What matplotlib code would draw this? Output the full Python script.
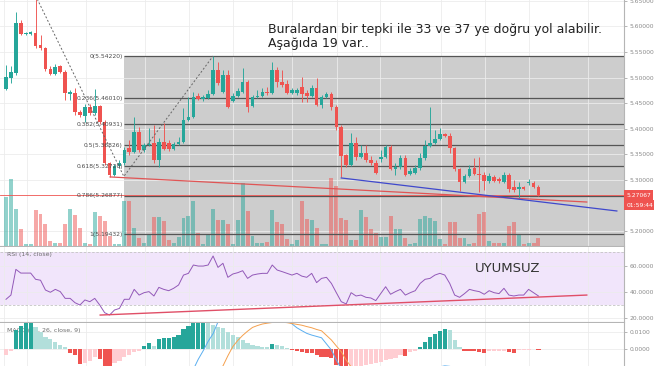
import numpy as np
import matplotlib
matplotlib.use('Agg')
import matplotlib.pyplot as plt
from matplotlib.transforms import blended_transform_factory

# 2h candles
opens = [5.478, 5.499, 5.509, 5.607, 5.585, 5.586, 5.587, 5.564, 5.558, 5.517,
         5.507, 5.523, 5.511, 5.468, 5.470, 5.433, 5.425, 5.443, 5.431, 5.445,
         5.413, 5.333, 5.310, 5.327, 5.333, 5.362, 5.355, 5.394, 5.359, 5.368,
         5.372, 5.339, 5.374, 5.372, 5.361, 5.370, 5.374, 5.417, 5.423, 5.464,
         5.458, 5.460, 5.468, 5.515, 5.472, 5.505, 5.454, 5.464, 5.472, 5.491,
         5.445, 5.462, 5.464, 5.472, 5.470, 5.515, 5.491, 5.487, 5.470, 5.470,
         5.482, 5.470, 5.464, 5.480, 5.446, 5.462, 5.468, 5.443, 5.404, 5.349,
         5.329, 5.372, 5.345, 5.353, 5.339, 5.333, 5.341, 5.345, 5.364, 5.321,
         5.325, 5.343, 5.312, 5.314, 5.323, 5.343, 5.366, 5.372, 5.380, 5.390,
         5.386, 5.362, 5.321, 5.296, 5.308, 5.323, 5.312, 5.310, 5.298, 5.306,
         5.302, 5.296, 5.310, 5.286, 5.282, 5.286, 5.294, 5.294, 5.286]
highs = [5.525, 5.523, 5.628, 5.613, 5.590, 5.592, 5.660, 5.583, 5.560, 5.523,
         5.527, 5.525, 5.515, 5.476, 5.480, 5.437, 5.448, 5.448, 5.478, 5.447,
         5.417, 5.335, 5.331, 5.339, 5.364, 5.378, 5.423, 5.404, 5.372, 5.402,
         5.407, 5.382, 5.411, 5.378, 5.374, 5.384, 5.441, 5.462, 5.472, 5.470,
         5.466, 5.476, 5.5422, 5.530, 5.515, 5.515, 5.470, 5.480, 5.519, 5.495,
         5.466, 5.476, 5.480, 5.482, 5.530, 5.521, 5.515, 5.495, 5.480, 5.480,
         5.501, 5.476, 5.486, 5.499, 5.466, 5.472, 5.472, 5.447, 5.407, 5.351,
         5.392, 5.384, 5.368, 5.368, 5.347, 5.339, 5.359, 5.368, 5.368, 5.333,
         5.349, 5.349, 5.323, 5.329, 5.353, 5.378, 5.443, 5.398, 5.402, 5.392,
         5.392, 5.364, 5.323, 5.312, 5.329, 5.343, 5.345, 5.316, 5.314, 5.310,
         5.306, 5.316, 5.314, 5.300, 5.296, 5.288, 5.302, 5.298, 5.290]
lows = [5.476, 5.490, 5.505, 5.583, 5.583, 5.584, 5.558, 5.554, 5.513, 5.505,
        5.505, 5.509, 5.456, 5.456, 5.427, 5.423, 5.413, 5.427, 5.427, 5.409,
        5.329, 5.306, 5.308, 5.323, 5.329, 5.349, 5.353, 5.355, 5.355, 5.366,
        5.333, 5.325, 5.359, 5.357, 5.359, 5.368, 5.372, 5.415, 5.421, 5.456,
        5.454, 5.458, 5.466, 5.486, 5.470, 5.441, 5.452, 5.462, 5.470, 5.433,
        5.443, 5.460, 5.462, 5.466, 5.468, 5.482, 5.482, 5.468, 5.468, 5.466,
        5.452, 5.452, 5.462, 5.444, 5.441, 5.460, 5.437, 5.398, 5.306, 5.325,
        5.327, 5.339, 5.343, 5.335, 5.329, 5.312, 5.335, 5.343, 5.320, 5.310,
        5.321, 5.308, 5.310, 5.312, 5.320, 5.339, 5.364, 5.370, 5.378, 5.384,
        5.353, 5.318, 5.279, 5.294, 5.306, 5.310, 5.277, 5.280, 5.294, 5.296,
        5.294, 5.294, 5.277, 5.277, 5.265, 5.281, 5.290, 5.284, 5.269]
closes = [5.501, 5.511, 5.607, 5.585, 5.588, 5.589, 5.562, 5.558, 5.517, 5.507,
          5.521, 5.511, 5.470, 5.471, 5.433, 5.427, 5.443, 5.431, 5.445, 5.413,
          5.333, 5.310, 5.327, 5.333, 5.359, 5.355, 5.394, 5.359, 5.368, 5.371,
          5.339, 5.374, 5.361, 5.361, 5.370, 5.374, 5.417, 5.423, 5.462, 5.458,
          5.462, 5.468, 5.515, 5.489, 5.505, 5.443, 5.464, 5.474, 5.491, 5.443,
          5.462, 5.464, 5.472, 5.470, 5.515, 5.491, 5.485, 5.470, 5.476, 5.476,
          5.468, 5.464, 5.480, 5.446, 5.462, 5.468, 5.443, 5.404, 5.347, 5.329,
          5.372, 5.345, 5.353, 5.339, 5.333, 5.314, 5.345, 5.364, 5.321, 5.325,
          5.343, 5.310, 5.318, 5.323, 5.343, 5.366, 5.372, 5.380, 5.390, 5.386,
          5.362, 5.321, 5.296, 5.308, 5.321, 5.312, 5.310, 5.298, 5.308, 5.298,
          5.298, 5.310, 5.283, 5.280, 5.286, 5.283, 5.296, 5.286, 5.27067]
volumes = [49, 67, 37, 17, 2, 2, 36, 32, 22, 5,
           3, 3, 22, 37, 31, 18, 3, 2, 34, 30,
           25, 10, 2, 2, 45, 45, 18, 8, 3, 12,
           29, 29, 25, 6, 3, 9, 28, 30, 45, 13,
           2, 12, 37, 26, 26, 22, 2, 26, 63, 35,
           10, 3, 3, 4, 36, 24, 22, 7, 2, 6,
           45, 27, 26, 18, 2, 2, 68, 60, 28, 26,
           6, 6, 36, 29, 17, 13, 9, 9, 30, 17,
           17, 8, 2, 3, 27, 30, 28, 25, 7, 2,
           24, 24, 8, 8, 2, 3, 32, 34, 5, 3,
           3, 3, 20, 24, 12, 2, 3, 3, 8]
rsi = [34.5, 37.7, 57.1, 54.3, 54.3, 54.3, 49.6, 48.9, 41.5, 39.8,
       42.0, 40.3, 35.2, 35.2, 31.9, 30.2, 34.0, 32.7, 35.2, 30.2,
       24.4, 22.6, 26.4, 27.6, 34.5, 34.5, 42.0, 37.7, 39.5, 40.3,
       37.0, 43.5, 42.0, 41.0, 42.8, 45.3, 52.8, 54.1, 60.4, 59.6,
       59.6, 60.4, 67.2, 58.6, 61.7, 51.1, 53.6, 54.6, 56.1, 50.3,
       52.8, 53.6, 54.1, 54.1, 60.4, 56.6, 55.4, 54.1, 52.8, 54.1,
       52.0, 51.1, 54.1, 47.1, 50.3, 51.1, 46.5, 39.5, 32.7, 31.0,
       39.5, 37.0, 37.7, 36.0, 35.5, 33.5, 38.8, 44.0, 38.3, 40.3,
       42.0, 37.7, 39.5, 41.0, 46.5, 49.6, 50.3, 52.8, 54.1, 52.8,
       46.5, 37.7, 36.0, 38.8, 42.0, 41.0, 40.3, 38.3, 41.0, 39.5,
       38.8, 42.8, 37.7, 37.0, 37.7, 37.7, 42.0, 39.5, 37.0]
macd_hist = [-0.0035, -0.0010, 0.0112, 0.0135, 0.0155, 0.0157, 0.0131, 0.0102, 0.0073, 0.0057,
             0.0043, 0.0024, 0.0010, -0.0025, -0.0035, -0.0088, -0.0080, -0.0069, -0.0049, -0.0061,
             -0.0100, -0.0108, -0.0084, -0.0069, -0.0049, -0.0035, -0.0020, -0.0010, 0.0018, 0.0037,
             0.0018, 0.0057, 0.0063, 0.0065, 0.0069, 0.0082, 0.0116, 0.0135, 0.0155, 0.0156,
             0.0157, 0.0151, 0.0141, 0.0131, 0.0122, 0.0102, 0.0082, 0.0069, 0.0053, 0.0037,
             0.0024, 0.0018, 0.0014, 0.0010, 0.0029, 0.0024, 0.0018, 0.0004, -0.0005, -0.0010,
             -0.0016, -0.0022, -0.0025, -0.0035, -0.0045, -0.0049, -0.0055, -0.0094, -0.0104, -0.0110,
             -0.0104, -0.0104, -0.0100, -0.0094, -0.0088, -0.0084, -0.0075, -0.0065, -0.0061, -0.0055,
             -0.0035, -0.0040, -0.0016, -0.0010, 0.0010, 0.0043, 0.0073, 0.0088, 0.0108, 0.0116,
             0.0112, 0.0053, 0.0010, -0.0010, -0.0011, -0.0012, -0.0016, -0.0025, -0.0012, -0.0011,
             -0.0010, -0.0009, -0.0016, -0.0022, -0.0006, -0.0005, -0.0004, -0.0002, -0.0006]
macd_line = [-0.030, -0.029, -0.026, -0.024, -0.022, -0.021, -0.021, -0.022, -0.024, -0.026,
             -0.027, -0.029, -0.031, -0.033, -0.036, -0.039, -0.040, -0.041, -0.041, -0.043,
             -0.047, -0.051, -0.051, -0.050, -0.047, -0.045, -0.041, -0.039, -0.036, -0.034,
             -0.033, -0.030, -0.028, -0.026, -0.024, -0.022, -0.019, -0.016, -0.012, -0.006,
             -0.001, 0.0045, 0.009, 0.016, 0.021, 0.023, 0.024, 0.025, 0.026, 0.025,
             0.024, 0.023, 0.022, 0.021, 0.022, 0.021, 0.019, 0.0165, 0.0148, 0.0125,
             0.0108, 0.0092, 0.0082, 0.0074, 0.0066, 0.0030, -0.0006, -0.0065, -0.0115, -0.016,
             -0.018, -0.020, -0.021, -0.022, -0.023, -0.024, -0.024, -0.023, -0.023, -0.023,
             -0.022, -0.021, -0.020, -0.019, -0.017, -0.015, -0.013, -0.0115, -0.0105, -0.0099,
             -0.0102, -0.011, -0.013, -0.015, -0.016, -0.017, -0.018, -0.019, -0.019, -0.020,
             -0.020, -0.020, -0.021, -0.021, -0.021, -0.021, -0.021, -0.021, -0.022]
signal_line = [-0.033, -0.032, -0.031, -0.030, -0.030, -0.030, -0.030, -0.031, -0.031, -0.032,
               -0.032, -0.032, -0.032, -0.032, -0.033, -0.034, -0.035, -0.036, -0.037, -0.038,
               -0.039, -0.040, -0.041, -0.041, -0.041, -0.041, -0.040, -0.039, -0.038, -0.037,
               -0.036, -0.035, -0.034, -0.033, -0.031, -0.030, -0.028, -0.026, -0.024, -0.021,
               -0.019, -0.016, -0.014, -0.012, -0.010, -0.004, 0.0014, 0.005, 0.008, 0.0105,
               0.0127, 0.0138, 0.0147, 0.0152, 0.0156, 0.0158, 0.0158, 0.0155, 0.0150, 0.0145,
               0.0140, 0.0132, 0.0125, 0.0115, 0.0107, 0.0080, 0.0053, 0.0018, -0.0016, -0.0065,
               -0.0105, -0.013, -0.015, -0.017, -0.018, -0.019, -0.020, -0.021, -0.021, -0.022,
               -0.022, -0.022, -0.021, -0.021, -0.020, -0.019, -0.018, -0.017, -0.016, -0.015,
               -0.015, -0.015, -0.015, -0.016, -0.016, -0.017, -0.017, -0.018, -0.018, -0.019,
               -0.019, -0.019, -0.020, -0.020, -0.020, -0.020, -0.021, -0.021, -0.021]

# drawings (x in candle index, y in price / rsi units)
fib_ratios = [0, 0.236, 0.382, 0.5, 0.618, 0.786, 1]
fib_prices = [5.54220, 5.46010, 5.40931, 5.36826, 5.32720, 5.26877, 5.19432]
fib_start = 23.9
zigzag_x = [6.0, 23.9, 42.0]
zigzag_y = [5.660, 5.307, 5.5422]
red_trend_x = [21.1, 117.8]
red_trend_y = [5.306, 5.257]
blue_trend_x = [68.0, 123.9]
blue_trend_y = [5.304, 5.2395]
rsi_trend_x = [19.1, 117.8]
rsi_trend_y = [22.6, 37.7]
grid_x = [-0.4, 4.3, 16.2, 28.2, 37.1, 46.0, 58.0, 67.1, 75.9, 88.2, 97.2, 106.1, 118.1]
price_ticks = [5.20, 5.30, 5.35, 5.40, 5.45, 5.50, 5.55, 5.60, 5.65]

UP = '#26a69a'
DOWN = '#ef5350'
AXC = '#b5b5b5'

o = np.array(opens); h = np.array(highs); l = np.array(lows); c = np.array(closes)
x = np.arange(len(o))
col = np.where(c >= o, UP, DOWN)

fig = plt.figure(figsize=(6.54, 3.66), dpi=100)
ax = fig.add_axes([0, 1 - 246 / 366, 624 / 654, 246 / 366])
ax_rsi = fig.add_axes([0, 1 - 322 / 366, 624 / 654, 75 / 366])
ax_macd = fig.add_axes([0, 0, 624 / 654, 43 / 366])

xlo, xhi = -1.22, 125.35
ylo, yhi = 5.1711, 5.6516

for a in (ax, ax_rsi, ax_macd):
    a.set_xlim(xlo, xhi)
    a.set_xticks(grid_x)
    a.tick_params(axis='x', length=0, labelbottom=False)
    a.yaxis.tick_right()
    a.tick_params(axis='y', direction='out', length=2.5, width=0.5, color='#999999',
                  labelsize=4.3, labelcolor='#8a8a8a', pad=1.5)
    a.grid(True, color='#ececec', lw=0.6)
    a.set_axisbelow(True)
    for s in ('top', 'left'):
        a.spines[s].set_visible(False)
    a.spines['right'].set_color(AXC)
    a.spines['bottom'].set_color(AXC)
    a.spines['right'].set_linewidth(0.8)
    a.spines['bottom'].set_linewidth(0.8)
ax_macd.spines['bottom'].set_visible(False)

# ---- price pane ----
ax.fill_between([fib_start, xhi], [ylo, ylo], [fib_prices[0], fib_prices[0]],
                color='#cdcdcd', lw=0, zorder=0.5)
vol = np.array(volumes, dtype=float)
vol_h = vol / vol.max() * 0.277 * (yhi - ylo)
ax.bar(x, vol_h, bottom=ylo, width=0.8, color=col, alpha=0.5, lw=0, zorder=1)
ax.hlines(fib_prices, fib_start, xhi, colors='#555555', lw=0.9, zorder=2)
for r, p in zip(fib_ratios, fib_prices):
    ax.text(fib_start - 0.2, p, f'{r:g}({p:.5f})', ha='right', va='center',
            fontsize=4.3, color='#4a4a4a', zorder=5)

ax.vlines(x, l, h, colors=col, lw=0.65, zorder=3)
body = np.maximum(np.abs(c - o), 0.0012)
ax.bar(x, body, bottom=np.minimum(o, c), width=0.74, color=col, lw=0, zorder=4)

ax.plot(zigzag_x, zigzag_y, color='#666666', lw=0.7, ls=(0, (2, 2)), zorder=5)
ax.plot(red_trend_x, red_trend_y, color='#e05555', lw=0.9, zorder=5)
ax.plot(blue_trend_x, blue_trend_y, color='#3f48cc', lw=0.9, zorder=5)
ax.axhline(closes[-1], color=DOWN, lw=0.6, zorder=2.5)

ax.set_ylim(ylo, yhi)
ax.set_yticks(price_ticks)
ax.set_yticklabels([f'{v:.5f}' for v in price_ticks])

tr = blended_transform_factory(ax.transAxes, ax.transData)
ax.text(1.004, closes[-1], f'{closes[-1]:.5f}', transform=tr, ha='left', va='center',
        fontsize=4.3, color='white', clip_on=False, zorder=10,
        bbox=dict(boxstyle='square,pad=0.35', fc=DOWN, ec='none'))
ax.annotate('01:59:44', xy=(1.004, closes[-1]), xycoords=tr, xytext=(0, -7.2),
            textcoords='offset points', ha='left', va='center', fontsize=4.3,
            color='white', zorder=10,
            bbox=dict(boxstyle='square,pad=0.35', fc=DOWN, ec='none'))

# ---- RSI pane ----
ax_rsi.axhspan(30, 70, color='#f1e5fb', lw=0, zorder=0.5)
for lvl in (30, 70):
    ax_rsi.axhline(lvl, color='#c4c4c4', lw=0.6, ls=(0, (3, 2)), zorder=1)
ax_rsi.plot(x, rsi, color='#9258b8', lw=0.7, zorder=3)
ax_rsi.plot(rsi_trend_x, rsi_trend_y, color='#e04f67', lw=1.0, zorder=4)
ax_rsi.set_ylim(17.35, 74.0)
ax_rsi.set_yticks([20, 40, 60])
ax_rsi.set_yticklabels([f'{v:.4f}' for v in (20, 40, 60)])
ax_rsi.text(0.012, 0.93, 'RSI (14, close)', transform=ax_rsi.transAxes, fontsize=4.5,
            color='#6e6e6e', va='top', ha='left')

# ---- MACD pane ----
hist = np.array(macd_hist)
prev = np.concatenate([[hist[0] + 1e-9 * np.sign(hist[0])], hist[:-1]])
hcol = []
for v, pv in zip(hist, prev):
    if v >= 0:
        hcol.append('#26a69a' if v > pv else '#b2dfdb')
    else:
        hcol.append('#ef5350' if v < pv else '#ffcdd2')
ax_macd.text(0.012, 0.88, 'MACD (12, 26, close, 9)', transform=ax_macd.transAxes,
             fontsize=4.5, color='#6e6e6e', va='top', ha='left', zorder=1)
ax_macd.bar(x, hist, width=0.85, color=hcol, lw=0, zorder=2)
ax_macd.plot(x, macd_line, color='#5aaef0', lw=0.7, zorder=3)
ax_macd.plot(x, signal_line, color='#f5a04d', lw=0.7, zorder=3)
ax_macd.set_ylim(-0.0100, 0.0153)
ax_macd.set_yticks([0.0, 0.01])
ax_macd.set_yticklabels(['0.0000', '0.0100'])

# ---- notes ----
fig.text(268 / 654, 1 - 23 / 366,
         'Buralardan bir tepki ile 33 ve 37 ye doğru yol alabilir.\nAşağıda 19 var..',
         ha='left', va='top', fontsize=9.0, linespacing=1.08, color='#222222')
fig.text(475 / 654, 1 - 269 / 366, 'UYUMSUZ', ha='left', va='center',
         fontsize=9.5, color='#333333')

fig.savefig('out.png', dpi=100, facecolor='white')
